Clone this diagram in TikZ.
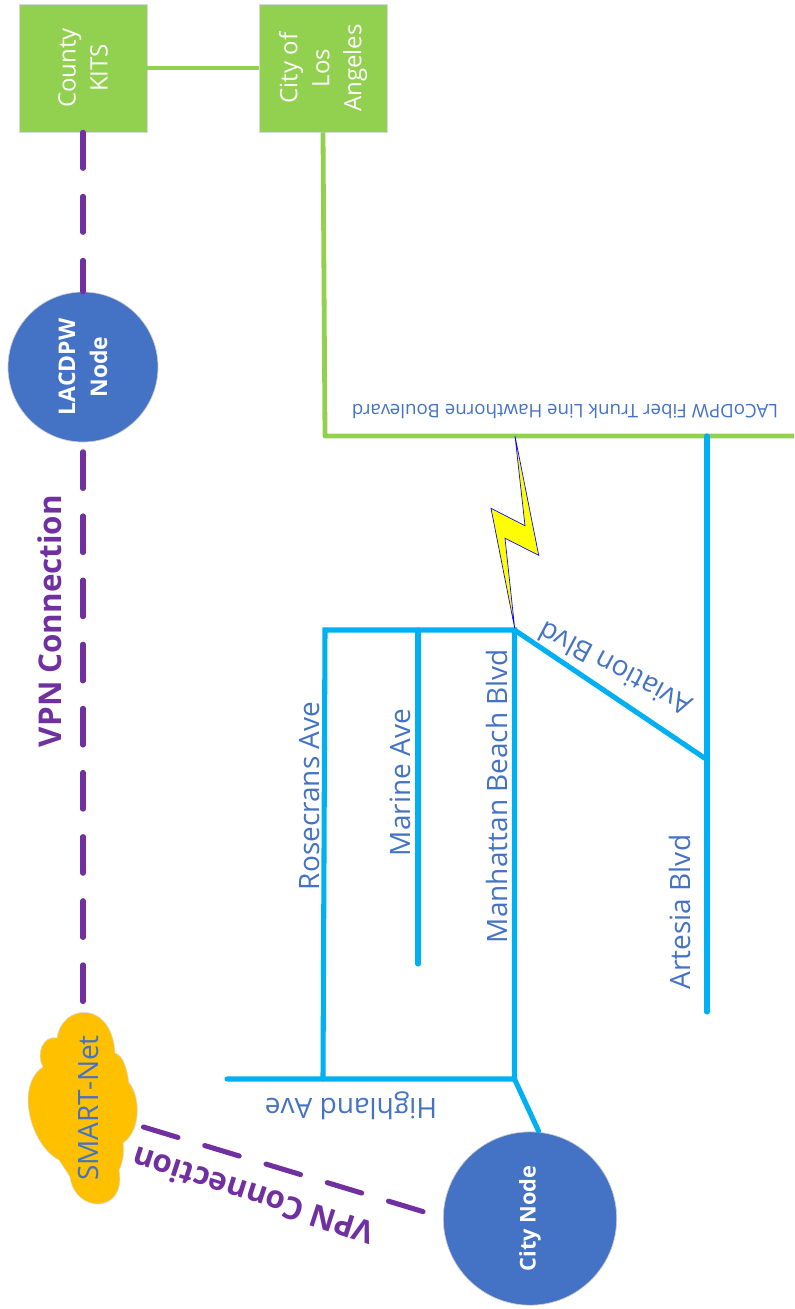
\documentclass[tikz,border=0pt]{standalone}
\usepackage{fontspec}
\setmainfont{Open Sans}
\definecolor{roadblue}{HTML}{00B0F0}
\definecolor{fibgreen}{HTML}{92D050}
\definecolor{vpnpurple}{HTML}{7030A0}
\definecolor{nodeblue}{HTML}{4472C4}
\definecolor{cloudgold}{HTML}{FFC000}
\definecolor{boltyellow}{HTML}{FFFF00}
\tikzset{
  roadline/.style={draw=roadblue,line width=3.8pt,line cap=round},
  fibreline/.style={draw=fibgreen,line width=3.6pt},
  vpnline/.style={draw=vpnpurple,line width=3.8pt,line cap=round,dash pattern=on 27pt off 21pt},
  greenbox/.style={rectangle,fill=fibgreen,draw=black!15,line width=.5pt,minimum width=96pt,minimum height=96pt,inner sep=0pt,text=white,align=center,rotate=90,font=\fontsize{18}{24}\selectfont},
  bluedisc/.style={circle,fill=nodeblue,draw=black!20,line width=.5pt,inner sep=0pt,text=white,align=center,rotate=90,font=\fontsize{17.2}{24}\selectfont\bfseries},
  roadlabel/.style={text=nodeblue,inner sep=0pt,font=\fontsize{21}{24}\selectfont},
  vpnlabel/.style={text=vpnpurple,inner sep=0pt,font=\fontsize{23.5}{26}\selectfont\bfseries},
}
\begin{document}
\begin{tikzpicture}[x=0.75pt,y=-0.75pt]
\useasboundingbox (0,0) rectangle (794,1309);
% coordinates
\coordinate (fibcorner) at (325,436);
\coordinate (fibend) at (794,436);
\coordinate (hwyW) at (227,1079);
\coordinate (hwyRos) at (323,1079);
\coordinate (hwyMan) at (514.5,1079);
\coordinate (topRos) at (325,630);
\coordinate (topMar) at (418,630);
\coordinate (topMan) at (514.5,630);
\coordinate (marEnd) at (418,964);
\coordinate (artTop) at (707,436);
\coordinate (artMid) at (706,759);
\coordinate (artEnd) at (707,1012);
\coordinate (cityEntry) at (538.5,1131);
\coordinate (cloudTop) at (83,1012);
\coordinate (vpnA) at (143.5,1127);
\coordinate (vpnB) at (426,1212.5);
% cloud
\fill[cloudgold,draw=black!15,line width=.4pt] (57,1038)
  .. controls (62,1003) and (112,1000) .. (115,1053)
  .. controls (124,1056) and (127,1070) .. (129,1083)
  .. controls (140,1095) and (142,1130) .. (123,1143)
  .. controls (125,1152) and (122,1165) .. (119,1170)
  .. controls (127,1214) and (75,1214) .. (70,1177)
  .. controls (66,1170) and (62,1165) .. (59,1160)
  .. controls (30,1145) and (15,1085) .. (43,1067)
  .. controls (36,1055) and (42,1035) .. cycle;
% nodes
\node[greenbox] (kits) at (83,68) {County\\KITS};
\node[greenbox] (la) at (323,68) {City of\\Los\\Angeles};
\node[bluedisc,minimum size=112.5pt] (lacdpw) at (83,367) {LACDPW\\Node};
\node[bluedisc,minimum size=130pt,font=\fontsize{16.3}{20}\selectfont\bfseries] (city) at (530,1218.5) {City Node};
\node[roadlabel,rotate=90] (smart) at (88.5,1108) {SMART-Net};
% connectors
\draw[fibreline] (kits) -- (la);
\draw[fibreline,line join=round] (la.west) -- (fibcorner) -- (fibend);
\draw[vpnline] (kits) -- (lacdpw);
\draw[vpnline,dash pattern=on 27.5pt off 20.6pt,dash phase=41pt] (lacdpw) -- (cloudTop);
\draw[vpnline] (vpnA) -- (vpnB);
\draw[roadline] (hwyW) -- (hwyMan) -- (cityEntry);
\draw[roadline] (hwyRos) -- (topRos) -- (topMan) -- (hwyMan);
\draw[roadline] (topMar) -- (marEnd);
\draw[roadline] (topMan) -- (artMid);
\draw[roadline] (artTop) -- (artEnd);
% bolt
\filldraw[fill=boltyellow,draw=blue,line width=.5pt] (515,436) -- (538.7,555.3) -- (505,538.3) -- (514.7,628.3) -- (491,508.3) -- (525,525.7) -- cycle;
% labels
\node[roadlabel,rotate=90] (lblRos) at (310,796) {Rosecrans Ave};
\node[roadlabel,rotate=90] (lblMar) at (400,782.5) {Marine Ave};
\node[roadlabel,rotate=90] (lblMan) at (497,796) {Manhattan Beach Blvd};
\node[roadlabel,rotate=90] (lblArt) at (680,912) {Artesia Blvd};
\node[roadlabel,rotate=180] (lblHwy) at (351,1106) {Highland Ave};
\node[roadlabel,rotate=152] (lblAvi) at (615,669) {Aviation Blvd};
\node[roadlabel,rotate=180,font=\fontsize{14}{16}\selectfont] (lblFib) at (565,411) {LACoDPW Fiber Trunk Line Hawthorne Boulevard};
\node[vpnlabel,rotate=90] (lblVpnA) at (50,621) {VPN Connection};
\node[vpnlabel,rotate=162] (lblVpnB) at (253,1196) {VPN Connection};
\end{tikzpicture}
\end{document}
